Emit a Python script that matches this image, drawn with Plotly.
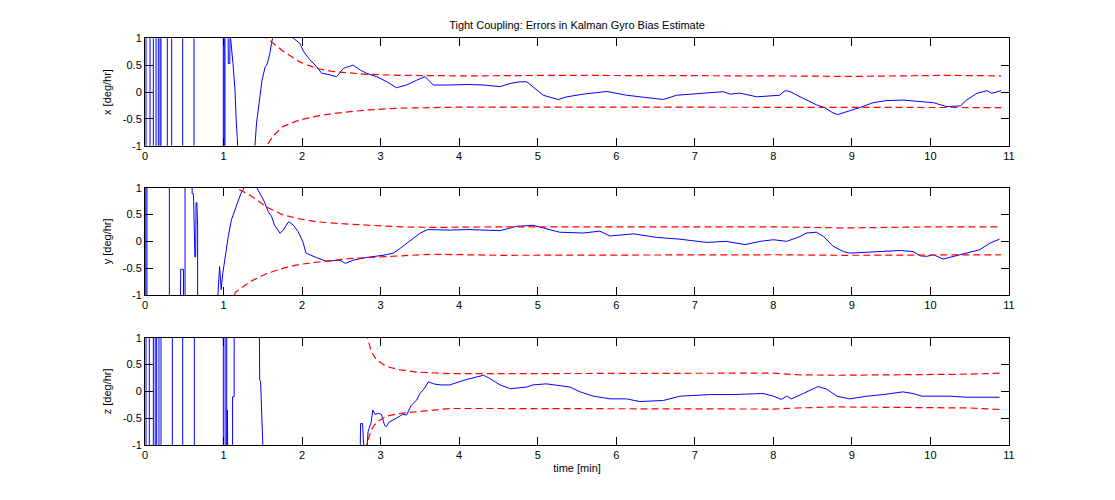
import plotly.graph_objects as go
from plotly.subplots import make_subplots

# ---------------- data ----------------
TITLE = "Tight Coupling: Errors in Kalman Gyro Bias Estimate"
Y_LABELS = ["x [deg/hr]", "y [deg/hr]", "z [deg/hr]"]
X_LABEL = "time [min]"
X_TICKS = list(range(0, 12))
Y_TICKVALS = [-1, -0.5, 0, 0.5, 1]
Y_TICKTEXT = ["-1", "-0.5", "0", "0.5", "1"]

# x-axis gyro bias error (blue)
x_t = [0.0, 0.013, 0.013, 0.064, 0.064, 0.106, 0.106, 0.14, 0.14, 0.169, 0.169,
       0.191, 0.191, 0.204, 0.204, 0.284, 0.284, 0.34, 0.34, 0.48, 0.48, 0.624, 0.624,
       0.997, 0.997, 1.008, 1.008, 1.018, 1.018,
       1.055, 1.06, 1.08, 1.085, 1.09, 1.12, 1.146, 1.16, 1.175, 1.2,
       1.39, 1.40, 1.42, 1.44, 1.46, 1.49, 1.53, 1.55, 1.57, 1.59, 1.61, 1.63, 1.7, 1.8, 1.87,
       1.97, 2.02, 2.1, 2.185, 2.25, 2.355, 2.44, 2.525, 2.65, 2.74, 2.82, 2.95, 3.08, 3.2,
       3.33, 3.46, 3.565, 3.63, 3.67, 3.88, 4.1, 4.31, 4.52, 4.65, 4.77, 4.86, 4.94, 5.07,
       5.26, 5.37, 5.58, 5.88, 6.13, 6.34, 6.6, 6.77, 7.07, 7.36, 7.45, 7.57, 7.79, 7.91,
       8.08, 8.15, 8.21, 8.34, 8.55, 8.65, 8.76, 8.82, 8.93, 9.1, 9.27, 9.44, 9.65, 9.82,
       10.04, 10.2, 10.38, 10.46, 10.59, 10.72, 10.78, 10.9]
x_err = [25, 25, -25, -25, 25, 25, -25, -25, 25, 25, -25,
         -25, 25, 25, -25, -25, 25, 25, -25, -25, 25, 25, -25,
         -25, 25, 25, -25, -25, 25,
         1.5, 0.53, 0.53, 1.5, 1.0, 0.53, 0.04, -0.49, -1.0, -1.5,
         -1.5, -1.0, -0.58, -0.34, -0.09, 0.22, 0.47, 0.5, 0.6, 0.72, 0.9, 1.05, 1.3, 1.2, 1.02,
         0.91, 0.75, 0.6, 0.47, 0.35, 0.32, 0.285, 0.44, 0.5, 0.41, 0.35, 0.285, 0.19, 0.08,
         0.13, 0.22, 0.285, 0.19, 0.13, 0.13, 0.14, 0.13, 0.1, 0.16, 0.19, 0.19, 0.1, -0.06,
         -0.14, -0.09, -0.04, 0.01, -0.06, -0.1, -0.14, -0.06, -0.025, 0.006, -0.04, -0.02, -0.09, -0.08,
         -0.06, 0.025, 0.01, -0.09, -0.24, -0.29, -0.39, -0.42, -0.37, -0.29, -0.2, -0.16, -0.15, -0.17,
         -0.2, -0.27, -0.26, -0.15, -0.025, 0.025, -0.025, 0.025]
x_bt = [1.5, 1.55, 1.63, 1.76, 1.97, 2.185, 2.4, 2.82, 3.25, 3.67, 4.1, 5.2, 6.5, 8.0, 9.0, 10.2, 10.9]
x_up = [1.1, 1.0, 0.91, 0.76, 0.56, 0.44, 0.38, 0.33, 0.31, 0.30, 0.30, 0.31, 0.31, 0.30, 0.29, 0.31, 0.30]
x_lo = [-1.15, -1.0, -0.82, -0.64, -0.52, -0.45, -0.4, -0.335, -0.3, -0.285, -0.28, -0.28, -0.28, -0.28, -0.29, -0.28, -0.29]

# y-axis gyro bias error (blue)
y_t = [0.0, 0.01, 0.01, 0.025, 0.025, 0.31, 0.31,
       0.45, 0.455, 0.49, 0.495, 0.51, 0.51,
       0.6, 0.6, 0.615, 0.62, 0.635, 0.645, 0.65, 0.66, 0.67, 0.675,
       0.92, 0.92, 0.95, 0.96, 0.97, 0.99, 1.02, 1.06, 1.1, 1.15, 1.19, 1.22, 1.25, 1.28,
       1.35, 1.42, 1.46, 1.52, 1.57, 1.61, 1.65, 1.72, 1.76, 1.83, 1.89, 1.95, 2.01, 2.05,
       2.18, 2.31, 2.48, 2.55, 2.65, 2.82, 3.03, 3.16, 3.25, 3.37, 3.5, 3.6, 3.88, 4.1,
       4.52, 4.73, 4.94, 5.07, 5.28, 5.58, 5.79, 5.92, 6.22, 6.51, 6.81, 7.15, 7.4, 7.64,
       7.83, 8.0, 8.17, 8.34, 8.42, 8.55, 8.64, 8.76, 8.89, 8.97, 9.19, 9.4, 9.62, 9.78,
       9.87, 9.95, 10.04, 10.16, 10.29, 10.46, 10.63, 10.76, 10.88]
y_err = [25, 25, -25, -25, 25, 25, -25,
         -25, -0.52, -0.52, -25, -25, 25,
         25, 0.89, 0.89, 0.74, -0.29, -0.29, 0.72, 0.72, 0.27, -25,
         -25, -1.2, -0.47, -0.7, -0.9, -0.6, -0.29, 0.09, 0.4, 0.62, 0.8, 0.89, 0.96, 1.1,
         1.2, 1.02, 0.89, 0.74, 0.55, 0.47, 0.3, 0.15, 0.21, 0.37, 0.3, 0.18, -0.01, -0.22,
         -0.3, -0.37, -0.35, -0.41, -0.35, -0.3, -0.26, -0.22, -0.13, 0.0, 0.15, 0.22, 0.21, 0.22,
         0.2, 0.28, 0.3, 0.25, 0.17, 0.155, 0.19, 0.1, 0.14, 0.075, 0.04, -0.02, 0.0, -0.06,
         0.0, 0.03, 0.0, 0.09, 0.155, 0.17, 0.09, -0.09, -0.19, -0.22, -0.2, -0.19, -0.17, -0.19,
         -0.27, -0.28, -0.25, -0.33, -0.28, -0.22, -0.155, -0.03, 0.04]
y_bt = [1.1, 1.15, 1.34, 1.55, 1.76, 1.97, 2.18, 2.4, 2.61, 3.25, 3.67, 4.52, 6.0, 8.0, 8.9, 10.0, 10.9]
y_up = [1.1, 1.0, 0.86, 0.64, 0.49, 0.42, 0.365, 0.34, 0.32, 0.27, 0.26, 0.27, 0.27, 0.27, 0.25, 0.27, 0.27]
y_lo = [-1.2, -0.95, -0.75, -0.6, -0.5, -0.43, -0.39, -0.35, -0.32, -0.27, -0.24, -0.26, -0.25, -0.25, -0.26, -0.26, -0.25]

# z-axis gyro bias error (blue)
z_t = [0.0, 0.013, 0.013, 0.055, 0.055, 0.106, 0.106, 0.13, 0.13, 0.149, 0.149,
       0.178, 0.178, 0.204, 0.204, 0.348, 0.348, 0.48, 0.48, 0.628, 0.628,
       0.997, 0.997, 1.02, 1.02, 1.04, 1.04, 1.05, 1.05,
       1.115, 1.115, 1.135, 1.14, 1.45, 1.455, 1.46, 1.472, 1.48, 1.488, 1.5, 1.52,
       2.735, 2.745, 2.77, 2.78, 2.8, 2.82, 2.84, 2.88, 2.9, 2.93, 2.97, 3.01, 3.05, 3.07,
       3.11, 3.2, 3.28, 3.33, 3.39, 3.46, 3.5, 3.56, 3.61, 3.67, 3.76, 3.88, 4.09, 4.31,
       4.39, 4.52, 4.65, 4.86, 4.94, 5.11, 5.28, 5.41, 5.54, 5.71, 5.92, 6.13, 6.3, 6.6,
       6.81, 7.07, 7.2, 7.49, 7.87, 8.0, 8.1, 8.17, 8.23, 8.38, 8.57, 8.68, 8.81, 8.97,
       9.19, 9.4, 9.65, 9.78, 9.89, 10.25, 10.46, 10.88]
z_err = [25, 25, -25, -25, 25, 25, -25, -25, 25, 25, -25,
         -25, 25, 25, -25, -25, 25, 25, -25, -25, 25,
         25, -25, -25, 25, 25, -25, -25, -0.35,
         -25, -0.1, -0.1, 25, 25, 1.5, 0.21, 0.18, -0.16, -0.5, -1.0, -25,
         -1.5, -0.6, -0.6, -0.9, -1.3, -1.2, -0.75, -0.57, -0.35, -0.43, -0.41, -0.43, -0.63, -0.66,
         -0.57, -0.5, -0.43, -0.44, -0.26, -0.16, -0.04, 0.06, 0.18, 0.14, 0.12, 0.12, 0.22, 0.3,
         0.24, 0.12, 0.05, 0.08, 0.12, 0.14, 0.11, 0.08, -0.01, -0.09, -0.14, -0.14, -0.19, -0.17,
         -0.09, -0.07, -0.06, -0.06, -0.04, -0.09, -0.15, -0.09, -0.14, -0.04, 0.09, 0.04, -0.09, -0.14,
         -0.09, -0.06, -0.01, -0.04, -0.09, -0.09, -0.11, -0.11]
z_bt = [2.8, 2.84, 2.88, 2.95, 3.08, 3.25, 3.46, 3.67, 3.88, 4.52, 6.0, 8.0, 8.3, 8.8, 10.5, 10.9]
z_up = [1.1, 0.97, 0.74, 0.58, 0.46, 0.4, 0.36, 0.34, 0.33, 0.33, 0.33, 0.34, 0.31, 0.30, 0.32, 0.34]
z_lo = [-1.1, -0.9, -0.72, -0.57, -0.46, -0.41, -0.38, -0.35, -0.32, -0.32, -0.32, -0.33, -0.31, -0.29, -0.31, -0.34]

# ---------------- figure ----------------
W, H = 1115, 500
FONT = "Liberation Sans, Arial, Helvetica, sans-serif"
BLUE = "#0000ff"
RED = "#ff0000"

fig = make_subplots(rows=3, cols=1)

panels = [(x_t, x_err, x_bt, x_up, x_lo), (y_t, y_err, y_bt, y_up, y_lo), (z_t, z_err, z_bt, z_up, z_lo)]
for i, (t, e, bt, up, lo) in enumerate(panels, start=1):
    fig.add_trace(go.Scatter(x=t, y=e, mode="lines", line=dict(color=BLUE, width=1),
                             showlegend=False, hoverinfo="skip"), row=i, col=1)
    fig.add_trace(go.Scatter(x=bt, y=up, mode="lines", line=dict(color=RED, width=1.2, dash="7px,4px"),
                             showlegend=False, hoverinfo="skip"), row=i, col=1)
    fig.add_trace(go.Scatter(x=bt, y=lo, mode="lines", line=dict(color=RED, width=1.2, dash="7px,4px"),
                             showlegend=False, hoverinfo="skip"), row=i, col=1)

# axes box positions (pixels -> paper)
x0, x1 = 145 / W, 1009 / W
ydoms = [(1 - 145.7 / H, 1 - 38.3 / H), (1 - 295 / H, 1 - 187.7 / H), (1 - 445 / H, 1 - 337.7 / H)]

axis_common = dict(showline=True, linecolor="black", linewidth=1, mirror="ticks",
                   ticks="inside", ticklen=8, tickwidth=1, tickcolor="black",
                   showgrid=False, zeroline=False,
                   tickfont=dict(family=FONT, size=11, color="black"))

for i in range(3):
    xa = "xaxis" if i == 0 else f"xaxis{i+1}"
    ya = "yaxis" if i == 0 else f"yaxis{i+1}"
    fig.layout[xa].update(domain=[x0, x1], range=[0, 11], tickvals=X_TICKS,
                          ticktext=[str(v) for v in X_TICKS], automargin=False, **axis_common)
    fig.layout[ya].update(domain=list(ydoms[i]), range=[-1, 1], tickvals=Y_TICKVALS,
                          ticktext=Y_TICKTEXT, automargin=False,
                          title=dict(text=Y_LABELS[i], standoff=8,
                                     font=dict(family=FONT, size=11, color="black")),
                          **axis_common)

fig.layout.xaxis3.title = dict(text=X_LABEL, standoff=4, font=dict(family=FONT, size=11, color="black"))

fig.update_layout(
    template="none",
    width=W, height=H,
    margin=dict(l=0, r=0, t=0, b=0),
    paper_bgcolor="white", plot_bgcolor="white",
    title=dict(text=TITLE, x=577 / W, xanchor="center", y=1 - 25 / H, yanchor="middle",
               font=dict(family=FONT, size=11, color="black")),
    showlegend=False,
)

fig.write_html("out.html")
